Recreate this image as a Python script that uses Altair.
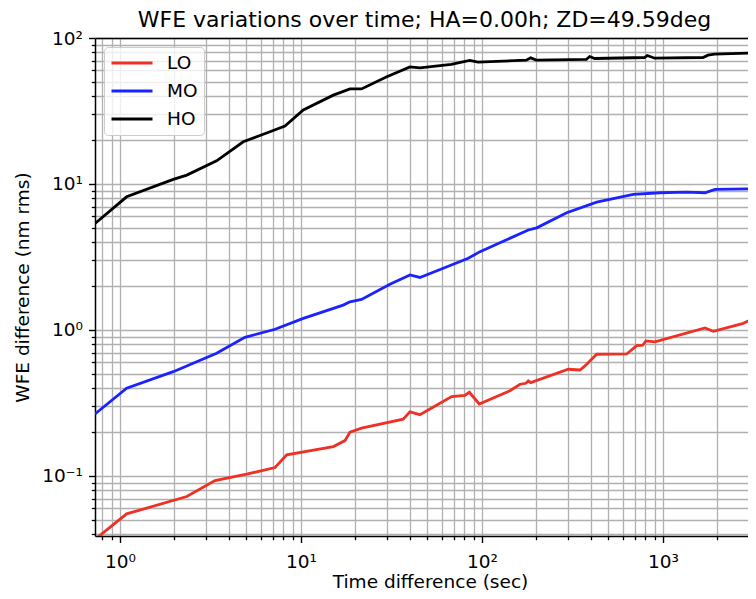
import altair as alt
import pandas as pd

TITLE = "WFE variations over time; HA=0.00h; ZD=49.59deg"
X_TITLE = "Time difference (sec)"
Y_TITLE = "WFE difference (nm rms)"

SERIES = ["LO", "MO", "HO"]
COLORS = ["#ee3124", "#1a22ff", "#000000"]

LO_T = [0.728, 1.089, 2.34, 3.35, 5.01, 7.19, 8.34, 15.1, 17.5, 18.65, 21.6, 36.7, 40.0, 45.4,
        68.0, 80.5, 85.1, 96.6, 142.8, 162.2, 175.0, 180.3, 185.8, 299.8, 347.8, 370.7, 430.3,
        630.1, 715.6, 772.2, 805.4, 903.3, 1706, 1897, 2777, 3600]
LO_V = [0.0368, 0.055, 0.0723, 0.093, 0.1029, 0.1142, 0.1394, 0.159, 0.1747, 0.1995, 0.2124, 0.2447,
        0.2747, 0.263, 0.3495, 0.357, 0.3746, 0.3114, 0.384, 0.425, 0.4316, 0.4477, 0.4357, 0.538,
        0.532, 0.567, 0.682, 0.685, 0.781, 0.786, 0.841, 0.828, 1.032, 0.98, 1.111, 1.30]

MO_T = [0.728, 1.089, 1.97, 3.42, 4.90, 7.19, 10.3, 17.1, 18.65, 21.6, 31.0, 40.0, 45.4, 61.1,
        84.0, 97.5, 180.3, 200.6, 293.8, 430.3, 685.4, 962.6, 1352, 1706, 1938, 3600]
MO_V = [0.266, 0.399, 0.518, 0.693, 0.891, 1.011, 1.20, 1.48, 1.56, 1.62, 2.06, 2.38, 2.29, 2.645,
        3.10, 3.44, 4.84, 5.01, 6.35, 7.52, 8.49, 8.71, 8.80, 8.71, 9.19, 9.30]

HO_T = [0.728, 1.089, 1.97, 2.34, 3.42, 4.80, 6.74, 8.16, 10.3, 15.1, 18.65, 21.6, 29.8, 40.0,
        45.4, 67.7, 85.5, 95.1, 175.7, 185.8, 199.5, 376.9, 393.6, 419.4, 792.5, 819, 899.9,
        1663, 1773, 1930, 3600]
HO_V = [5.36, 8.17, 10.75, 11.5, 14.4, 19.45, 22.8, 24.9, 32.1, 40.6, 44.8, 44.8, 54.2, 63.4,
        62.5, 65.9, 70.2, 68.3, 70.5, 73.1, 70.5, 71.3, 74.7, 72.4, 73.5, 75.9, 72.7,
        73.5, 76.3, 77.5, 79.3]

X_DOMAIN = [0.728, 2949]
Y_DOMAIN = [0.0388, 100]

X_MAJOR = [1, 10, 100, 1000]
X_LABELS = ["10⁰", "10¹", "10²", "10³"]
X_MINOR = [0.8, 0.9, 2, 3, 4, 5, 6, 7, 8, 9, 20, 30, 40, 50, 60, 70, 80, 90,
           200, 300, 400, 500, 600, 700, 800, 900, 2000]
Y_MAJOR = [0.1, 1, 10, 100]
Y_LABELS = ["10⁻¹", "10⁰", "10¹", "10²"]
Y_MINOR = [0.04, 0.05, 0.06, 0.07, 0.08, 0.09, 0.2, 0.3, 0.4, 0.5, 0.6, 0.7, 0.8, 0.9,
           2, 3, 4, 5, 6, 7, 8, 9, 20, 30, 40, 50, 60, 70, 80, 90]

rows = []
for name, ts, vs in [("LO", LO_T, LO_V), ("MO", MO_T, MO_V), ("HO", HO_T, HO_V)]:
    for t, v in zip(ts, vs):
        rows.append({"series": name, "t": t, "v": v})
df = pd.DataFrame(rows)


def label_expr(values, labels):
    expr = "''"
    for v, lab in reversed(list(zip(values, labels))):
        expr = f"abs(log(datum.value) - log({v})) < 0.01 ? '{lab}' : ({expr})"
    return expr


FONT = "DejaVu Sans"
FS = 18.5
GRID = "#b0b0b0"

xscale = alt.Scale(type="log", domain=X_DOMAIN, nice=False)
yscale = alt.Scale(type="log", domain=Y_DOMAIN, nice=False)

minor = alt.Chart(df).mark_line(opacity=0, clip=True).encode(
    x=alt.X("t:Q", scale=xscale, axis=alt.Axis(
        orient="bottom", values=X_MINOR, labels=False, tickSize=3.7, tickWidth=1.3,
        tickColor="black", grid=True, gridColor=GRID, gridWidth=1.3, domain=False, title=None)),
    y=alt.Y("v:Q", scale=yscale, axis=alt.Axis(
        orient="left", values=Y_MINOR, labels=False, tickSize=3.7, tickWidth=1.3,
        tickColor="black", grid=True, gridColor=GRID, gridWidth=1.3, domain=False, title=None)),
    detail="series:N",
)

frame_top = alt.Chart(df).mark_line(opacity=0, clip=True).encode(
    x=alt.X("t:Q", scale=xscale, axis=alt.Axis(
        orient="top", ticks=False, labels=False, grid=False, domain=True,
        domainColor="black", domainWidth=1.5, title=None)),
    y=alt.Y("v:Q", scale=yscale, axis=None),
    detail="series:N",
)

major = alt.Chart(df).mark_line(strokeWidth=2.8, clip=True).encode(
    x=alt.X("t:Q", scale=xscale, axis=alt.Axis(
        orient="bottom", values=X_MAJOR, labelExpr=label_expr(X_MAJOR, X_LABELS),
        tickSize=6.5, tickWidth=1.4, tickColor="black", grid=True, gridColor=GRID,
        gridWidth=1.3, domain=True, domainColor="black", domainWidth=1.5,
        labelFont=FONT, labelFontSize=FS, labelColor="black",
        labelPadding=10, labelOverlap=False, labelFlush=False,
        title=X_TITLE, titleFont=FONT, titleFontSize=FS, titleFontWeight="normal",
        titleColor="black", titleX=335, titleY=45, titleBaseline="middle")),
    y=alt.Y("v:Q", scale=yscale, axis=alt.Axis(
        orient="left", values=Y_MAJOR, labelExpr=label_expr(Y_MAJOR, Y_LABELS),
        tickSize=6.5, tickWidth=1.4, tickColor="black", grid=True, gridColor=GRID,
        gridWidth=1.3, domain=True, domainColor="black", domainWidth=1.5,
        labelFont=FONT, labelFontSize=FS, labelColor="black",
        labelPadding=6, labelOverlap=False, labelFlush=False,
        title=Y_TITLE, titleFont=FONT, titleFontSize=FS, titleFontWeight="normal",
        titleColor="black", titleX=-73, titleY=249, titleBaseline="middle")),
    color=alt.Color("series:N", scale=alt.Scale(domain=SERIES, range=COLORS), legend=alt.Legend(
        title=None, orient="top-left", offset=9, padding=6, fillColor="rgba(255,255,255,0.8)",
        strokeColor="#cccccc", cornerRadius=4, symbolType="stroke", symbolSize=1681,
        symbolStrokeWidth=2.8, clipHeight=20, rowPadding=8, labelFont=FONT,
        labelFontSize=FS, labelColor="black", labelOffset=13)),
    order="t:Q",
)

chart = alt.layer(minor, frame_top, major).resolve_axis(x="independent", y="independent").properties(
    width=653, height=498,
    title=alt.TitleParams(TITLE, font=FONT, fontSize=22, fontWeight="normal", color="black",
                          anchor="middle", frame="group", offset=-3, dx=3),
    autosize=alt.AutoSizeParams(type="none"),
    padding={"left": 87, "top": 30, "right": 0, "bottom": 55},
).configure_view(stroke=None)

chart.save("out.html", embed_options={"renderer": "svg", "actions": False})
